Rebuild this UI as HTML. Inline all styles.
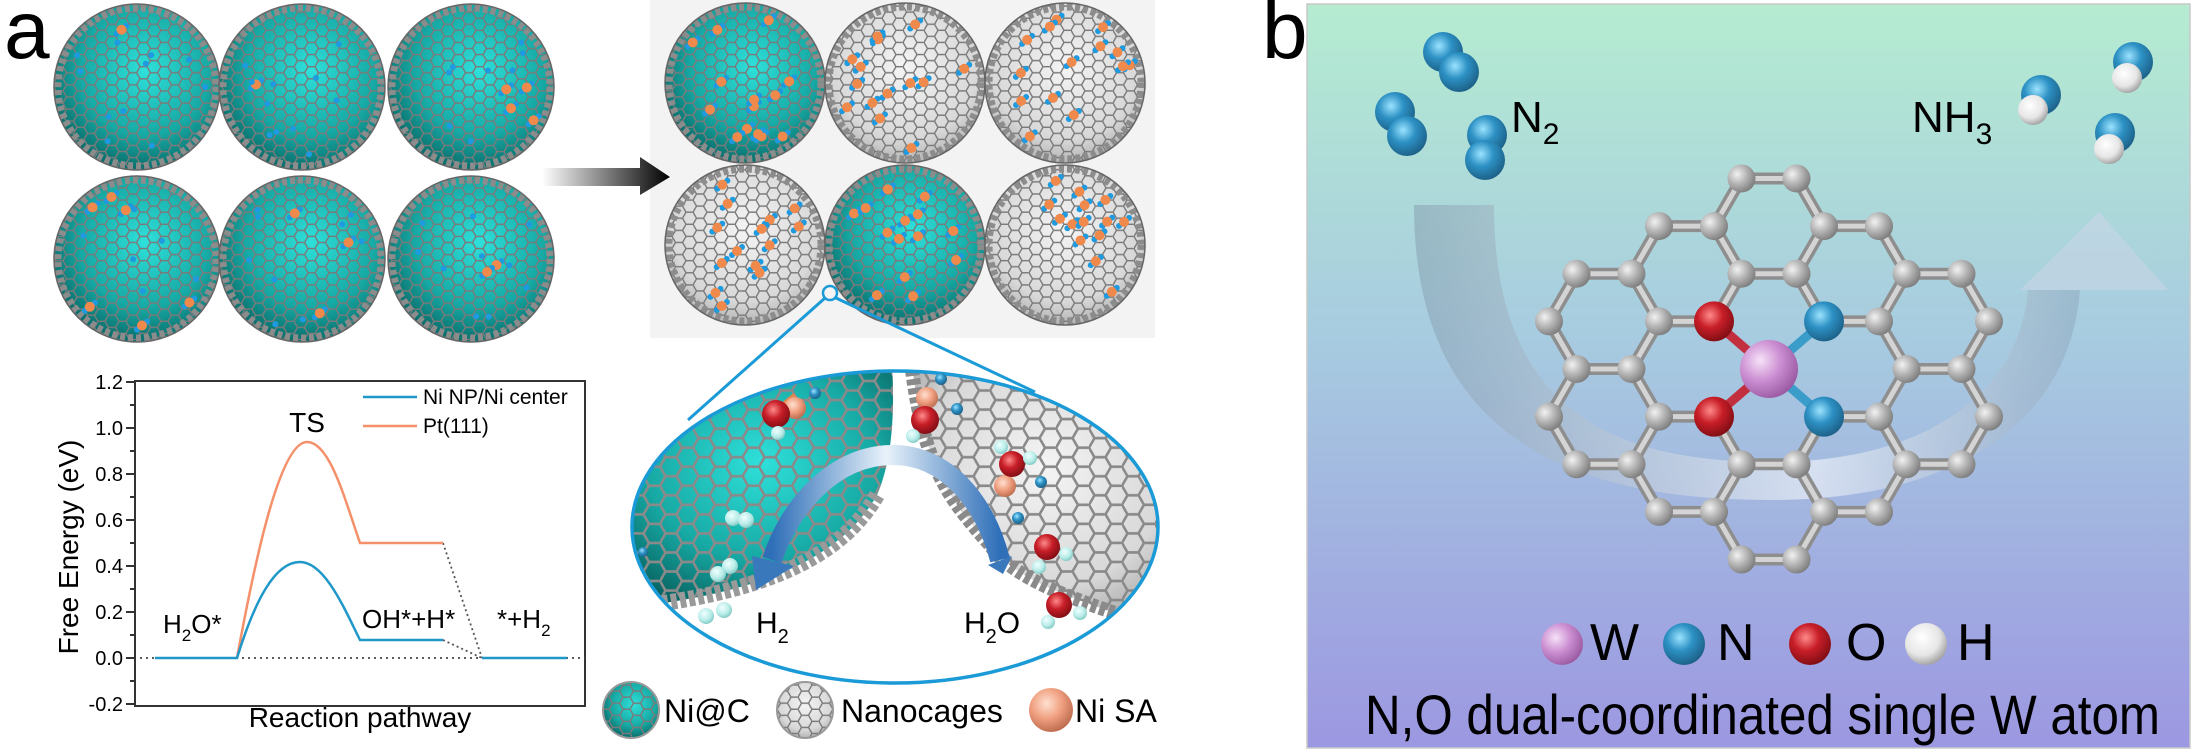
<!DOCTYPE html>
<html><head><meta charset="utf-8"><style>
html,body{margin:0;padding:0;background:#fff;}
svg{display:block;font-family:"Liberation Sans",Arial,sans-serif;}
</style></head><body>
<svg id="s" width="2193" height="750" viewBox="0 0 2193 750" xmlns="http://www.w3.org/2000/svg">
<defs>
<pattern id="hex" width="21" height="12.124" patternUnits="userSpaceOnUse">
<path d="M0,6.062 L3.5,0 L10.5,0 L14,6.062 L10.5,12.124 L3.5,12.124 Z M14,6.062 L21,6.062" fill="none" stroke="#7a7a7a" stroke-width="1.4"/>
</pattern>
<pattern id="hexB" width="33" height="19.05" patternUnits="userSpaceOnUse">
<path d="M0,9.526 L5.5,0 L16.5,0 L22,9.526 L16.5,19.05 L5.5,19.05 Z M22,9.526 L33,9.526" fill="none" stroke="#8a8a8a" stroke-width="2.6"/>
</pattern>
<radialGradient id="teal" cx="0.55" cy="0.4" r="0.65">
<stop offset="0" stop-color="#2fe0da"/><stop offset="0.6" stop-color="#17a9a4"/><stop offset="1" stop-color="#07605e"/>
</radialGradient>
<radialGradient id="grey" cx="0.5" cy="0.4" r="0.65">
<stop offset="0" stop-color="#f4f4f4"/><stop offset="0.7" stop-color="#d8d8d8"/><stop offset="1" stop-color="#a8a8a8"/>
</radialGradient>
<radialGradient id="cg" cx="0.35" cy="0.35" r="0.7"><stop offset="0" stop-color="#f2f2f2"/><stop offset="0.5" stop-color="#b4b4b4"/><stop offset="1" stop-color="#7c7c7c"/></radialGradient>
<radialGradient id="wg" cx="0.35" cy="0.35" r="0.7"><stop offset="0" stop-color="#f6e2f8"/><stop offset="0.5" stop-color="#cc8fd2"/><stop offset="1" stop-color="#9a5aa2"/></radialGradient>
<radialGradient id="ng" cx="0.4" cy="0.35" r="0.7"><stop offset="0" stop-color="#9be3ff"/><stop offset="0.45" stop-color="#2d91c4"/><stop offset="1" stop-color="#1b5c82"/></radialGradient>
<radialGradient id="og" cx="0.4" cy="0.35" r="0.7"><stop offset="0" stop-color="#ff8a8a"/><stop offset="0.45" stop-color="#c81e28"/><stop offset="1" stop-color="#7a0c12"/></radialGradient>
<radialGradient id="hg" cx="0.4" cy="0.35" r="0.7"><stop offset="0" stop-color="#ffffff"/><stop offset="0.6" stop-color="#e6e6e6"/><stop offset="1" stop-color="#9a9a9a"/></radialGradient>
<radialGradient id="hcg" cx="0.4" cy="0.35" r="0.7"><stop offset="0" stop-color="#f0ffff"/><stop offset="0.6" stop-color="#b8ece8"/><stop offset="1" stop-color="#7cc4c0"/></radialGradient>
<radialGradient id="sag" cx="0.4" cy="0.35" r="0.7"><stop offset="0" stop-color="#ffe0d0"/><stop offset="0.5" stop-color="#f0a080"/><stop offset="1" stop-color="#b86848"/></radialGradient>
<linearGradient id="arr" x1="0" x2="1"><stop offset="0" stop-color="#fff"/><stop offset="1" stop-color="#000"/></linearGradient>
<linearGradient id="bbg" x1="0" x2="0" y1="0" y2="1"><stop offset="0" stop-color="#b5ecd1"/><stop offset="0.45" stop-color="#a7cbe0"/><stop offset="1" stop-color="#9c97e1"/></linearGradient>
<linearGradient id="barr" x1="0" x2="1" y1="0" y2="0"><stop offset="0" stop-color="#2f6fb8"/><stop offset="0.5" stop-color="#e8f2fa"/><stop offset="1" stop-color="#2f6fb8"/></linearGradient>
<linearGradient id="bigarr" x1="0" x2="1"><stop offset="0" stop-color="#7f95a8" stop-opacity="0.45"/><stop offset="0.6" stop-color="#ffffff" stop-opacity="0.55"/><stop offset="1" stop-color="#8aa0b8" stop-opacity="0.45"/></linearGradient>
<clipPath id="ell"><ellipse cx="895" cy="527" rx="263" ry="156"/></clipPath>
</defs>

<!-- Panel a -->
<text x="4" y="58" font-size="82">a</text>
<g id="leftgrid"></g>
<rect x="650" y="0" width="505" height="338" fill="#f3f3f3"/>
<g id="rightgrid"></g>
<!-- black arrow -->
<path d="M542,168 L640,168 L640,157 L670,177 L640,195 L640,186 L542,186 Z" fill="url(#arr)"/>

<!-- zoom lines -->
<circle cx="830" cy="293" r="7" fill="none" stroke="#1a9ad6" stroke-width="2.5"/>
<line x1="825" y1="298" x2="688" y2="420" stroke="#1a9ad6" stroke-width="3"/>
<line x1="836" y1="298" x2="1035" y2="392" stroke="#1a9ad6" stroke-width="3"/>

<!-- ellipse zoom -->
<ellipse cx="895" cy="527" rx="263" ry="156" fill="#fff"/>
<g clip-path="url(#ell)">
<path d="M600,365 L892,365 C896,430 888,470 877,495 C840,560 760,590 650,605 L600,610 Z" fill="url(#teal)"/>
<path d="M600,365 L892,365 C896,430 888,470 877,495 C840,560 760,590 650,605 L600,610 Z" fill="url(#hexB)"/>
<path d="M877,495 C840,560 760,590 650,605" fill="none" stroke="#9a9a9a" stroke-width="16" stroke-dasharray="6,3"/>
<path d="M912,365 L1180,365 L1180,625 L1127,617 C1060,595 1010,575 990,545 C950,500 925,470 912,365 Z" fill="url(#grey)"/>
<path d="M912,365 L1180,365 L1180,625 L1127,617 C1060,595 1010,575 990,545 C950,500 925,470 912,365 Z" fill="url(#hexB)"/>
<path d="M912,370 C925,470 950,500 990,545 C1010,575 1060,595 1127,617" fill="none" stroke="#8a8a8a" stroke-width="14" stroke-dasharray="6,3"/>
</g>
<ellipse cx="895" cy="527" rx="263" ry="156" fill="none" stroke="#1a9ad6" stroke-width="3.5"/>
<!-- molecules in ellipse -->
<g>
<line x1="778" y1="409" x2="795" y2="395" stroke="#e08850" stroke-width="5"/>
<circle cx="795" cy="408" r="11" fill="url(#sag)"/><circle cx="815" cy="393" r="6" fill="url(#ng)"/><circle cx="776" cy="414" r="14" fill="url(#og)"/><circle cx="778" cy="433" r="7" fill="url(#hcg)"/>
<circle cx="927" cy="398" r="11" fill="url(#sag)"/><circle cx="941" cy="379" r="6" fill="url(#ng)"/><circle cx="957" cy="409" r="6" fill="url(#ng)"/><circle cx="925" cy="420" r="14" fill="url(#og)"/><circle cx="913" cy="436" r="7" fill="url(#hcg)"/>
<circle cx="1005" cy="486" r="11" fill="url(#sag)"/><circle cx="1041" cy="482" r="6" fill="url(#ng)"/><circle cx="1018" cy="518" r="6" fill="url(#ng)"/><circle cx="1012" cy="464" r="13" fill="url(#og)"/><circle cx="1001" cy="447" r="7" fill="url(#hcg)"/><circle cx="1030" cy="458" r="7" fill="url(#hcg)"/>
<circle cx="1047" cy="547" r="13" fill="url(#og)"/><circle cx="1066" cy="554" r="7" fill="url(#hcg)"/><circle cx="1039" cy="567" r="7" fill="url(#hcg)"/>
<circle cx="1059" cy="605" r="13" fill="url(#og)"/><circle cx="1080" cy="613" r="7" fill="url(#hcg)"/><circle cx="1048" cy="622" r="7" fill="url(#hcg)"/>
<circle cx="733" cy="518" r="8" fill="url(#hcg)"/><circle cx="746" cy="520" r="8" fill="url(#hcg)"/>
<circle cx="718" cy="574" r="8" fill="url(#hcg)"/><circle cx="730" cy="566" r="8" fill="url(#hcg)"/>
<circle cx="706" cy="616" r="8" fill="url(#hcg)"/><circle cx="724" cy="610" r="8" fill="url(#hcg)"/>
<circle cx="643" cy="552" r="5" fill="url(#ng)"/>
</g>
<!-- blue curved arrow -->
<path d="M1000,560 C985,500 945,455 893,455 C835,455 790,505 772,560" fill="none" stroke="url(#barr)" stroke-width="20"/>
<path d="M752,556 L794,566 L756,590 Z" fill="#3a78bc"/>
<path d="M988,565 L1012,556 L1003,574 Z" fill="#3a78bc"/>
<text x="756" y="633" font-size="30">H<tspan font-size="20" dy="10">2</tspan></text>
<text x="964" y="633" font-size="30">H<tspan font-size="20" dy="10">2</tspan><tspan dy="-10">O</tspan></text>

<!-- legend row a -->
<circle cx="631" cy="710" r="28" fill="url(#teal)"/><circle cx="631" cy="710" r="28" fill="url(#hex)"/><circle cx="631" cy="710" r="28" fill="none" stroke="#999" stroke-width="2"/>
<text x="664" y="722" font-size="32">Ni@C</text>
<circle cx="805" cy="710" r="28" fill="url(#grey)"/><circle cx="805" cy="710" r="28" fill="url(#hex)"/><circle cx="805" cy="710" r="28" fill="none" stroke="#999" stroke-width="2"/>
<text x="841" y="722" font-size="32">Nanocages</text>
<circle cx="1051" cy="710" r="22" fill="url(#sag)"/>
<text x="1075" y="722" font-size="32">Ni SA</text>

<!-- plot -->
<g>
<rect x="135" y="381" width="450" height="325" fill="none" stroke="#333" stroke-width="2"/>
<g stroke="#333" stroke-width="2">
<line x1="126" y1="382" x2="135" y2="382"/><line x1="126" y1="428" x2="135" y2="428"/><line x1="126" y1="474" x2="135" y2="474"/><line x1="126" y1="520" x2="135" y2="520"/><line x1="126" y1="566" x2="135" y2="566"/><line x1="126" y1="612" x2="135" y2="612"/><line x1="126" y1="658" x2="135" y2="658"/><line x1="126" y1="704" x2="135" y2="704"/>
<line x1="130" y1="405" x2="135" y2="405"/><line x1="130" y1="451" x2="135" y2="451"/><line x1="130" y1="497" x2="135" y2="497"/><line x1="130" y1="543" x2="135" y2="543"/><line x1="130" y1="589" x2="135" y2="589"/><line x1="130" y1="635" x2="135" y2="635"/><line x1="130" y1="681" x2="135" y2="681"/>
</g>
<g font-size="20" text-anchor="end">
<text x="123" y="389">1.2</text><text x="123" y="435">1.0</text><text x="123" y="481">0.8</text><text x="123" y="527">0.6</text><text x="123" y="573">0.4</text><text x="123" y="619">0.2</text><text x="123" y="665">0.0</text><text x="123" y="711">-0.2</text>
</g>
<text transform="translate(78,547) rotate(-90)" font-size="28" text-anchor="middle">Free Energy (eV)</text>
<text x="360" y="727" font-size="28" text-anchor="middle">Reaction pathway</text>
<line x1="140" y1="658" x2="585" y2="658" stroke="#444" stroke-width="1.8" stroke-dasharray="2,4"/>
<path d="M443,543 L482,658 M443,640 L482,658" stroke="#555" stroke-width="1.8" stroke-dasharray="2,3" fill="none"/>
<path d="M237,658 C255,560 280,442 307,442 C330,442 345,500 360,543 L443,543" fill="none" stroke="#f4906a" stroke-width="2.5"/>
<path d="M155,658 L237,658 C255,600 275,562 300,562 C325,562 345,610 360,640 L443,640 M482,658 L567,658" fill="none" stroke="#1f97c8" stroke-width="2.5"/>
<line x1="363" y1="397" x2="417" y2="397" stroke="#1f97c8" stroke-width="2.5"/>
<line x1="363" y1="426" x2="417" y2="426" stroke="#f4906a" stroke-width="2.5"/>
<text x="423" y="404" font-size="21">Ni NP/Ni center</text>
<text x="423" y="433" font-size="21">Pt(111)</text>
<text x="307" y="432" font-size="28" text-anchor="middle">TS</text>
<text x="163" y="633" font-size="26">H<tspan font-size="17" dy="8">2</tspan><tspan dy="-8">O*</tspan></text>
<text x="362" y="628" font-size="26">OH*+H*</text>
<text x="497" y="628" font-size="26">*+H<tspan font-size="17" dy="8">2</tspan></text>
</g>

<!-- Panel b -->
<text x="1262" y="58" font-size="82">b</text>
<rect x="1307" y="4" width="883" height="744" fill="url(#bbg)" stroke="#c9c9c9" stroke-width="1.5"/>
<!-- big translucent arrow -->
<path d="M1414,205 C1414,430 1560,500 1770,500 C1960,500 2070,420 2080,290 L2028,290 C2020,390 1930,462 1770,462 C1600,462 1494,400 1494,205 Z" fill="url(#bigarr)"/>
<path d="M2020,290 L2168,290 L2099,212 Z" fill="#c8d6e6" fill-opacity="0.6"/>
<g id="mol"></g>
<!-- N2 -->
<g>
<circle cx="1443" cy="52" r="20" fill="url(#ng)"/><circle cx="1459" cy="72" r="20" fill="url(#ng)"/>
<circle cx="1395" cy="112" r="20" fill="url(#ng)"/><circle cx="1407" cy="136" r="20" fill="url(#ng)"/>
<circle cx="1487" cy="135" r="20" fill="url(#ng)"/><circle cx="1485" cy="160" r="20" fill="url(#ng)"/>
</g>
<text x="1511" y="132" font-size="44">N<tspan font-size="30" dy="12">2</tspan></text>
<text x="1912" y="132" font-size="44">NH<tspan font-size="30" dy="12">3</tspan></text>
<g>
<circle cx="2041" cy="95" r="20" fill="url(#ng)"/><circle cx="2033" cy="110" r="15" fill="url(#hg)"/>
<circle cx="2133" cy="62" r="20" fill="url(#ng)"/><circle cx="2127" cy="78" r="15" fill="url(#hg)"/>
<circle cx="2115" cy="133" r="20" fill="url(#ng)"/><circle cx="2109" cy="149" r="15" fill="url(#hg)"/>
</g>
<!-- legend b -->
<circle cx="1562" cy="644" r="21" fill="url(#wg)"/><text x="1590" y="660" font-size="52">W</text>
<circle cx="1684" cy="644" r="21" fill="url(#ng)"/><text x="1717" y="660" font-size="52">N</text>
<circle cx="1810" cy="644" r="21" fill="url(#og)"/><text x="1846" y="660" font-size="52">O</text>
<circle cx="1926" cy="644" r="21" fill="url(#hg)"/><text x="1957" y="660" font-size="52">H</text>
<text x="1365" y="734" font-size="56" textLength="795" lengthAdjust="spacingAndGlyphs">N,O dual-coordinated single W atom</text>
</svg>
<script>
(function(){
var NS="http://www.w3.org/2000/svg";
function el(p,n,a){var e=document.createElementNS(NS,n);for(var k in a)e.setAttribute(k,a[k]);p.appendChild(e);return e;}
var seed=7;function rnd(){seed=(seed*16807)%2147483647;return seed/2147483647;}
function sphere(g,cx,cy,r,fill,cage){
 el(g,"circle",{cx:cx,cy:cy,r:r,fill:fill});
 el(g,"circle",{cx:cx,cy:cy,r:r,fill:"url(#hex)"});
 el(g,"circle",{cx:cx,cy:cy,r:r-4,fill:"none",stroke:"#8c8c8c","stroke-width":7,"stroke-dasharray":"5,3"});
 el(g,"circle",{cx:cx,cy:cy,r:r,fill:"none",stroke:"#666","stroke-width":1.5});
 var n=cage?14:12;
 for(var i=0;i<n;i++){var a=rnd()*6.283,d=Math.sqrt(rnd())*(r-12);var x=cx+d*Math.cos(a),y=cy+d*Math.sin(a);
  if(cage||rnd()<0.25){el(g,"circle",{cx:x+5,cy:y-4,r:3,fill:"#1e9ae0"});el(g,"circle",{cx:x-5,cy:y+4,r:3,fill:"#1e9ae0"});el(g,"circle",{cx:x,cy:y,r:5,fill:"#f08a4c"});}
  else el(g,"circle",{cx:x,cy:y,r:3,fill:"#1e9ae0"});}
}
var L=document.getElementById("leftgrid");
[[137,87],[302,87],[471,87],[137,259],[302,259],[471,259]].forEach(function(c){sphere(L,c[0],c[1],83,"url(#teal)",false);});
var R=document.getElementById("rightgrid");
var rg=[[745,83,1],[905,83,0],[1065,83,0],[745,245,0],[905,245,1],[1065,245,0]];
rg.forEach(function(c){sphere(R,c[0],c[1],80,c[2]?"url(#teal)":"url(#grey)",true);});
// molecule
var M=document.getElementById("mol");
var s=55,h=47.63,X0=1769,Y0=369;
function P(i,j){return [X0+i*s/2,Y0+j*h];}
var hexes=[[0,-3],[0,-1],[0,1],[0,3],[-1,-2],[-1,0],[-1,2],[1,-2],[1,0],[1,2],[-2,-1],[-2,1],[2,-1],[2,1]];
var verts={},bonds={};
function key(i,j){return i+","+j;}
var removed={"-1,0":1,"1,0":1};
hexes.forEach(function(hx){var ci=3*hx[0],cj=hx[1];
 var v=[[ci+2,cj],[ci+1,cj+1],[ci-1,cj+1],[ci-2,cj],[ci-1,cj-1],[ci+1,cj-1]];
 for(var t=0;t<6;t++){var a=v[t],b=v[(t+1)%6];var ka=key(a[0],a[1]),kb=key(b[0],b[1]);
  if(removed[ka]||removed[kb])continue;verts[ka]=a;verts[kb]=b;var bk=ka<kb?ka+"|"+kb:kb+"|"+ka;bonds[bk]=[a,b];}
});
for(var b in bonds){var a=P(bonds[b][0][0],bonds[b][0][1]),c=P(bonds[b][1][0],bonds[b][1][1]);
 el(M,"line",{x1:a[0],y1:a[1],x2:c[0],y2:c[1],stroke:"#8e8e8e","stroke-width":12});
 el(M,"line",{x1:a[0],y1:a[1],x2:c[0],y2:c[1],stroke:"#d4d4d4","stroke-width":5});}
var special={"-2,-1":"o","2,-1":"n","-2,1":"o","2,1":"n"};
for(var k in special){var p=P(verts[k][0],verts[k][1]);
 el(M,"line",{x1:p[0],y1:p[1],x2:X0,y2:Y0,stroke:special[k]=="o"?"#c23040":"#3a9cc8","stroke-width":9});}
for(var k in verts){if(special[k])continue;var p=P(verts[k][0],verts[k][1]);el(M,"circle",{cx:p[0],cy:p[1],r:14,fill:"url(#cg)"});}
for(var k in special){var p=P(verts[k][0],verts[k][1]);el(M,"circle",{cx:p[0],cy:p[1],r:20,fill:special[k]=="o"?"url(#og)":"url(#ng)"});}
el(M,"circle",{cx:X0,cy:Y0,r:29,fill:"url(#wg)"});
})();
</script>
</body></html>
